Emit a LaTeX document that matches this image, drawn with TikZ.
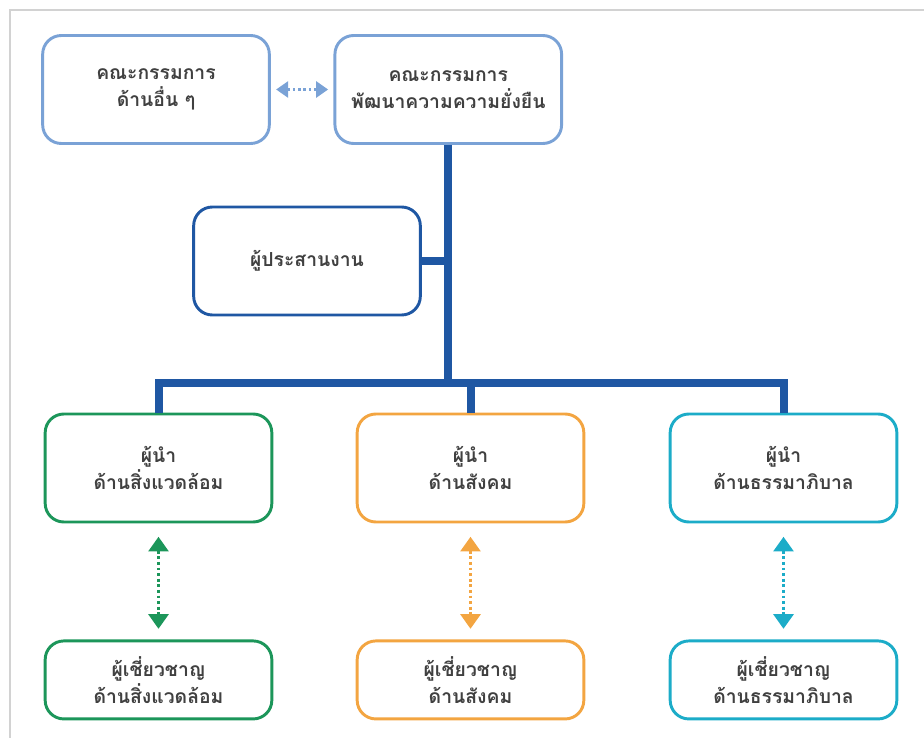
\documentclass[tikz,border=0pt]{standalone}
\usepackage{fontspec}
\newfontfamily\thaifont[Script=Thai]{Loma}
\usepackage{xcolor}
\usepackage{tikz}
\usetikzlibrary{arrows.meta,positioning,calc}
\definecolor{thlight}{RGB}{122,162,214}
\definecolor{thnavy}{RGB}{31,87,163}
\definecolor{thgreen}{RGB}{28,150,90}
\definecolor{thorange}{RGB}{243,165,65}
\definecolor{thcyan}{RGB}{28,172,200}
\definecolor{thtext}{RGB}{64,64,64}

\begin{document}
\begin{tikzpicture}[
  x=0.75pt, y=-0.75pt,
  font=\thaifont\bfseries\fontsize{14.5}{20.5}\selectfont,
  box/.style={draw, rounded corners=14pt, line width=2.2pt, align=center, fill=white, text=thtext, minimum width=170pt, minimum height=81pt},
  expbox/.style={box, minimum height=58.5pt},
  trunk/.style={thnavy, line width=6pt},
  darr/.style={{Triangle[width=15pt,length=11pt]}-{Triangle[width=15pt,length=11pt]}, dotted, line width=2.2pt},
  sarr/.style={{Triangle[width=12pt,length=9pt]}-{Triangle[width=12pt,length=9pt]}, dotted, line width=2pt}
]
\useasboundingbox (0,0) rectangle (924,738);
% frame of the page
\draw[gray!35, line width=1.5pt] (10,738) -- (10,10) -- (924,10);

% committees
\node[box, draw=thlight] (other) at (156,89.5) {คณะกรรมการ\\ด้านอื่น ๆ};
\node[box, draw=thlight, right=47pt of other] (commit) {คณะกรรมการ\\พัฒนาความความยั่งยืน};
\node[box, draw=thnavy] (coord) at (307,261) {ผู้ประสานงาน};

% leaders
\node[box, draw=thgreen] (leadEnv) at (158.5,468) {ผู้นำ\\ด้านสิ่งแวดล้อม};
\node[box, draw=thorange] (leadSoc) at (470.5,468) {ผู้นำ\\ด้านสังคม};
\node[box, draw=thcyan] (leadGov) at (783.5,468) {ผู้นำ\\ด้านธรรมาภิบาล};

% experts
\node[expbox, draw=thgreen, below=87pt of leadEnv] (expEnv) {ผู้เชี่ยวชาญ\\ด้านสิ่งแวดล้อม};
\node[expbox, draw=thorange, below=87pt of leadSoc] (expSoc) {ผู้เชี่ยวชาญ\\ด้านสังคม};
\node[expbox, draw=thcyan, below=87pt of leadGov] (expGov) {ผู้เชี่ยวชาญ\\ด้านธรรมาภิบาล};

% tree
\coordinate (hub) at (446,383);
\draw[trunk] (commit.south) -- (commit.south |- hub);
\draw[trunk] (coord.east) -- (coord.east -| commit.south);
\draw[trunk] (leadEnv.north) -- (leadEnv.north |- hub) -- (leadGov.north |- hub) -- (leadGov.north);
\draw[trunk] (leadSoc.north |- hub) -- (leadSoc.north);

% dotted links
\draw[sarr, thlight, shorten <=4pt, shorten >=4pt] (other) -- (commit);
\draw[darr, thgreen, shorten <=10pt, shorten >=8pt] (leadEnv) -- (expEnv);
\draw[darr, thorange, shorten <=10pt, shorten >=8pt] (leadSoc) -- (expSoc);
\draw[darr, thcyan, shorten <=10pt, shorten >=8pt] (leadGov) -- (expGov);
\end{tikzpicture}
\end{document}
